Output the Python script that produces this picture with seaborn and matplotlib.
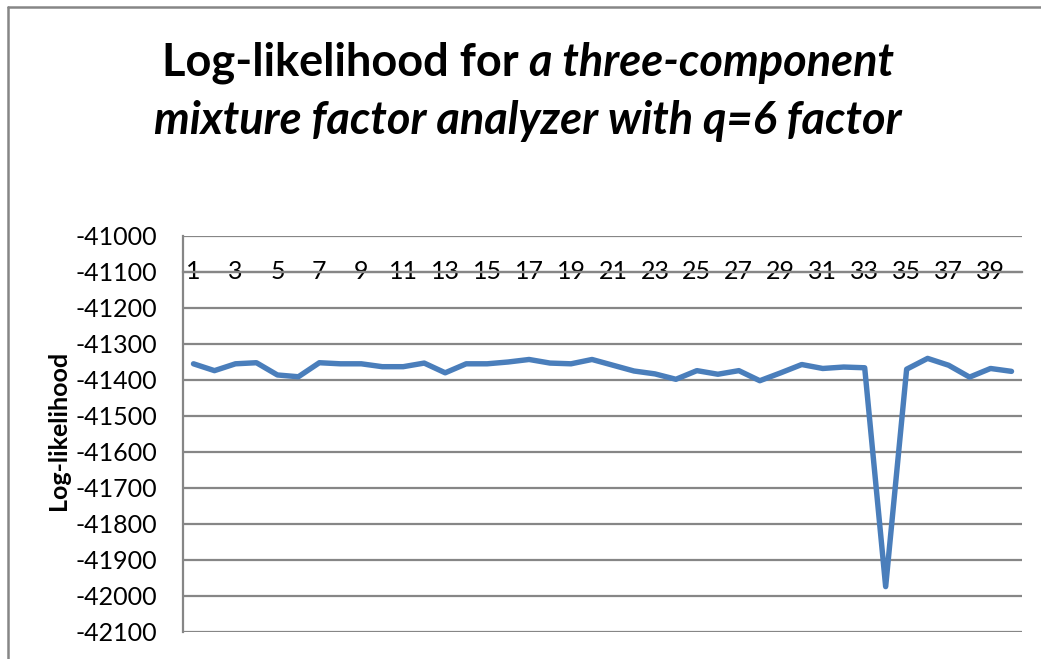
import matplotlib
matplotlib.use("Agg")
import matplotlib.pyplot as plt
from matplotlib.lines import Line2D
import numpy as np
import pandas as pd
import seaborn as sns

# EM iterations and the log-likelihood reached at each run
iterations = list(range(1, 41))
loglik = [
    -41355, -41374, -41355, -41352, -41386, -41391, -41352, -41355, -41355, -41363,
    -41363, -41353, -41380, -41355, -41355, -41350, -41343, -41353, -41355, -41343,
    -41359, -41375, -41383, -41398, -41374, -41384, -41374, -41402, -41380, -41357,
    -41368, -41364, -41366, -41974, -41370, -41340, -41359, -41392, -41368, -41376,
]
xtick_values = list(range(1, 40, 2))
ytick_values = list(range(-42100, -40999, 100))

title_plain = "Log-likelihood for "
title_italic_1 = "a three-component"
title_italic_2 = "mixture factor analyzer with q=6 factor"
ylabel_text = "Log-likelihood"

df = pd.DataFrame({"iteration": iterations, "loglik": loglik})

sns.set_style("white")
plt.rcParams["font.family"] = ["Lato", "DejaVu Sans"]
plt.rcParams["text.color"] = "black"

W, H = 1041, 659
fig = plt.figure(figsize=(W / 100, H / 100), dpi=100)
ax = fig.add_axes([183 / W, (H - 632) / H, (1022 - 183) / W, (632 - 236) / H])

grid_color = "#868686"
line_color = "#4A7EBB"

sns.lineplot(data=df, x="iteration", y="loglik", ax=ax, color=line_color,
             linewidth=3.9, solid_joinstyle="round", solid_capstyle="round", zorder=3)

ax.set_xlim(0.5, 40.5)
ax.set_ylim(-42100, -41000)
ax.set_yticks(ytick_values)
ax.set_yticklabels([str(v) for v in ytick_values])
ax.set_xticks(xtick_values)
ax.set_xticklabels([str(v) for v in xtick_values])

# horizontal gridlines
ax.grid(axis="y", color=grid_color, linewidth=1.6)
ax.grid(axis="x", visible=False)
ax.set_axisbelow(True)

for side in ["top", "right"]:
    ax.spines[side].set_visible(False)
ax.spines["left"].set_color(grid_color)
ax.spines["left"].set_linewidth(1.6)
# category axis crosses the value axis at -41100
ax.spines["bottom"].set_position(("data", -41100))
ax.spines["bottom"].set_color(grid_color)
ax.spines["bottom"].set_linewidth(1.6)

ax.tick_params(axis="y", length=0, pad=18.5, labelsize=18, colors="black")
ax.tick_params(axis="x", length=0, pad=0, labelsize=18, colors="black")
for lbl in ax.get_xticklabels():
    lbl.set_verticalalignment("center")

ax.set_xlabel("")
ax.set_ylabel("")
fig.text(58 / W, 1 - 430 / H, ylabel_text, rotation=90, ha="center", va="center",
         fontsize=18, fontweight="bold", color="black")

# two-line title, first line mixes upright and italic bold text
fs_title = 32.5
fig.canvas.draw()
r = fig.canvas.get_renderer()
cx = 528
t1 = fig.text(0, 1 - 76 / H, title_plain, fontsize=fs_title, fontweight="bold",
              va="baseline", color="black")
t2 = fig.text(0, 1 - 76 / H, title_italic_1, fontsize=fs_title, fontweight="bold",
              style="italic", va="baseline", color="black")
w1 = t1.get_window_extent(r).width
w2 = t2.get_window_extent(r).width
total = w1 + w2
x0 = cx - total / 2
t1.set_x(x0 / W)
t2.set_x((x0 + w1) / W)
fig.text(cx / W, 1 - 134 / H, title_italic_2, fontsize=fs_title, fontweight="bold",
         style="italic", ha="center", va="baseline", color="black")

# chart area frame
fig.add_artist(Line2D([8 / W, 8 / W], [0, 1 - 7 / H], color=grid_color, linewidth=1.8))
fig.add_artist(Line2D([8 / W, 1], [1 - 7 / H, 1 - 7 / H], color=grid_color, linewidth=1.8))

fig.savefig("out.png", dpi=100, facecolor="white")
